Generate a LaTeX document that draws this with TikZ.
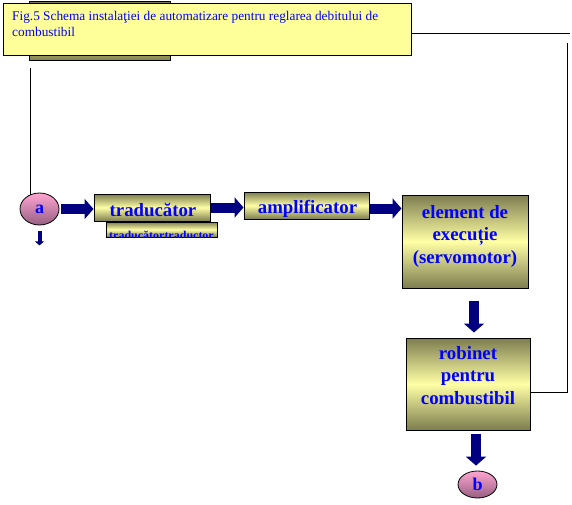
\documentclass[tikz,border=0pt]{standalone}
\usepackage{fontspec}
\setmainfont{Liberation Serif}
\usetikzlibrary{arrows.meta,shapes.geometric}
\definecolor{olv}{RGB}{125,125,80}
\definecolor{lyel}{RGB}{255,255,165}
\definecolor{capy}{RGB}{255,255,153}
\definecolor{pinkt}{RGB}{255,165,210}
\definecolor{pinkb}{RGB}{150,95,130}
\definecolor{navyc}{RGB}{0,0,128}
\definecolor{txtb}{RGB}{0,0,255}
\begin{document}
\begin{tikzpicture}[x=1pt,y=-1pt,
  box/.style={rectangle,draw=black,line width=1pt,top color=olv,bottom color=olv,middle color=lyel,inner sep=0pt},
  oval/.style={ellipse,draw=black,line width=0.8pt,top color=pinkt,bottom color=pinkb,inner sep=0pt,
     text=txtb,font=\fontsize{18}{20}\selectfont\bfseries},
  btext/.style={text=txtb,font=\fontsize{18.8}{22.5}\selectfont\bfseries,inner sep=0pt,align=center},
  blockarrow/.style={draw=navyc,line width=10pt,-{Triangle[length=9pt,width=20pt]}},
  smallarrow/.style={draw=navyc,line width=4pt,-{Triangle[length=4pt,width=9pt]}},
  wire/.style={draw=black,line width=1pt}
]
\useasboundingbox (0,0) rectangle (572,505);
% boxes behind caption
\node[box,minimum width=141pt,minimum height=59pt] (back) at (99.5,31.5) {};
\node[rectangle,draw=black,line width=1pt,fill=capy,minimum width=408pt,minimum height=52pt] (cap) at (207,30) {};
\node[anchor=north west,inner sep=0pt,align=left,text=txtb,font=\fontsize{13.3}{16.5}\selectfont] (capt) at (12,11)
  {Fig.5 Schema instalaţiei de automatizare pentru reglarea debitului de\\combustibil};
% main nodes
\node[oval,minimum width=39pt,minimum height=32pt] (a) at (39.5,209) {a};
\node[box,minimum width=116pt,minimum height=27pt] (trad) at (152,207.5) {};
\node[box,minimum width=111pt,minimum height=15pt] (trad2) at (161.5,229.5) {};
\node[box,minimum width=125pt,minimum height=27pt] (amp) at (306.5,205.5) {};
\node[box,minimum width=126pt,minimum height=93pt] (exec) at (465,241.5) {};
\node[box,minimum width=124pt,minimum height=92pt] (rob) at (468,384) {};
\node[oval,minimum width=39pt,minimum height=27pt] (b) at (477.5,484.5) {b};
% texts
\node[btext,anchor=base] (tradt) at (153,216) {traducător};
\begin{scope}
  \clip (trad2.north west) rectangle ([yshift=0.5pt]trad2.south east);
  \node[btext,font=\fontsize{12}{12}\selectfont\bfseries,anchor=base] (trad2t) at (161.5,239) {traducătortraductor};
\end{scope}
\begin{scope}
  \clip (amp.north west) rectangle ([yshift=1.5pt]amp.south east);
  \node[btext,anchor=base] (ampt) at (307.5,213.5) {amplificator};
\end{scope}
\node[btext] (exect) at (465,236) {element de\\execuție\\(servomotor)};
\node[btext] (robt) at (468,375.5) {robinet\\pentru\\combustibil};
% arrows
\draw[blockarrow,shorten <=1.5pt] (a.east) -- (a.east -| trad.west);
\draw[blockarrow] (trad.east) -- (trad.east -| amp.west);
\draw[blockarrow] ([yshift=-3pt]amp.east) -- ([yshift=-3pt]amp.east -| exec.west);
\draw[blockarrow,shorten <=12pt,shorten >=5pt] ([xshift=9pt]exec.south) -- ([xshift=9pt]exec.south |- rob.north);
\draw[blockarrow,shorten <=3pt,shorten >=5pt] ([xshift=8pt]rob.south) -- ([xshift=8pt]rob.south |- b.north);
\draw[smallarrow,shorten <=6pt] (a.south) -- ([yshift=-20pt]a.south);
% feedback wires
\coordinate (lt) at (30,68);
\draw[wire] (lt) -- (lt |- a.124);
\coordinate (fr) at (570,34);
\draw[wire] ([yshift=-4pt]cap.east) -- (fr);
\coordinate (fb2) at (567,43);
\coordinate (fb1) at (567,392.5);
\draw[wire] ([yshift=-8.5pt]rob.east) -- (fb1) -- (fb2);
\end{tikzpicture}
\end{document}
